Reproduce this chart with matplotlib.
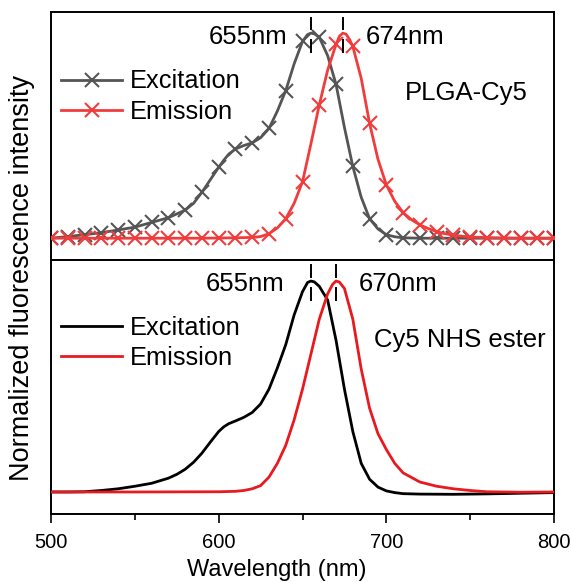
import numpy as np
import matplotlib
matplotlib.use("Agg")
import matplotlib.pyplot as plt

plt.rcParams['font.family'] = ['Liberation Sans', 'DejaVu Sans']

# PLGA-Cy5 spectra (normalized)
plga_ex_wl = [500, 510, 520, 530, 540, 550, 560, 570, 580, 585, 590, 595, 600, 603, 606, 610,
              615, 620, 625, 630, 635, 640, 645, 650, 653, 655, 657, 660, 665, 670, 675,
              680, 685, 690, 695, 700, 705, 710, 720, 730, 740, 750, 760, 770, 780, 790, 800]
plga_ex_val = [0.0, 0.008, 0.017, 0.027, 0.040, 0.054, 0.077, 0.100, 0.137, 0.170, 0.224, 0.285,
               0.346, 0.380, 0.410, 0.435, 0.452, 0.465, 0.490, 0.535, 0.620, 0.720, 0.850,
               0.960, 0.993, 1.000, 0.997, 0.980, 0.890, 0.750, 0.540, 0.350, 0.200, 0.095,
               0.045, 0.017, 0.007, 0.002, 0.0, 0.0, 0.0, 0.0, 0.0, 0.0, 0.0, 0.0, 0.0]

plga_em_wl = [500, 510, 520, 530, 540, 550, 560, 570, 580, 590, 600, 610, 620, 625, 630, 635,
              640, 645, 650, 655, 660, 665, 670, 672, 674, 676, 678, 680, 685, 690, 695, 700,
              705, 710, 715, 720, 725, 730, 735, 740, 745, 750, 760, 770, 780, 790, 800]
plga_em_val = [0.0, 0.0, 0.0, 0.0, 0.0, 0.0, 0.0, 0.0, 0.0, 0.0, 0.001, 0.002, 0.004, 0.008,
               0.022, 0.050, 0.095, 0.170, 0.275, 0.460, 0.650, 0.820, 0.945, 0.985, 1.000,
               0.995, 0.970, 0.935, 0.780, 0.560, 0.385, 0.260, 0.180, 0.125, 0.090, 0.065,
               0.047, 0.032, 0.022, 0.015, 0.010, 0.006, 0.003, 0.001, 0.0, 0.0, 0.0]

# Cy5 NHS ester spectra (normalized)
nhs_ex_wl = [500, 510, 520, 530, 540, 550, 560, 570, 575, 580, 585, 590, 595, 600, 603, 606,
             610, 615, 620, 625, 630, 635, 640, 645, 650, 653, 655, 657, 660, 665, 670, 675,
             680, 685, 690, 695, 700, 705, 710, 720, 740, 760, 780, 800]
nhs_ex_val = [0.005, 0.005, 0.006, 0.012, 0.020, 0.032, 0.046, 0.070, 0.088, 0.112, 0.145,
              0.188, 0.240, 0.290, 0.312, 0.327, 0.340, 0.357, 0.380, 0.420, 0.490, 0.590,
              0.700, 0.840, 0.950, 0.993, 1.000, 0.996, 0.975, 0.910, 0.720, 0.490, 0.290,
              0.140, 0.065, 0.028, 0.010, 0.002, -0.003, -0.005, -0.006, -0.004, -0.001, 0.002]

nhs_em_wl = [500, 550, 600, 610, 615, 620, 625, 630, 635, 640, 645, 650, 655, 660, 665, 668,
             670, 672, 675, 680, 685, 690, 695, 700, 705, 710, 720, 730, 740, 750, 760, 780, 800]
nhs_em_val = [0.005, 0.005, 0.006, 0.008, 0.012, 0.020, 0.035, 0.075, 0.140, 0.225, 0.345,
              0.490, 0.655, 0.820, 0.940, 0.985, 1.000, 0.995, 0.965, 0.820, 0.585, 0.400,
              0.280, 0.205, 0.140, 0.095, 0.052, 0.032, 0.020, 0.012, 0.006, 0.004, 0.005]

peak_labels_top = [(655, "655nm"), (674, "674nm")]
peak_labels_bot = [(655, "655nm"), (670, "670nm")]

GRAY = "#555555"
RED_TOP = "#f03c3c"
RED_BOT = "#e8191f"

fig = plt.figure(figsize=(5.71, 5.82), dpi=100)
ax1 = fig.add_axes([0.0893, 0.553, 0.881, 0.426])
ax2 = fig.add_axes([0.0893, 0.1168, 0.881, 0.4364])

def mark_idx(wl):
    return [i for i, w in enumerate(wl) if w % 10 == 0]

lw = 2.0
ax1.plot(plga_ex_wl, plga_ex_val, color=GRAY, lw=lw, marker='x', ms=10, mew=1.5,
         markevery=mark_idx(plga_ex_wl), label="Excitation", zorder=3)
ax1.plot(plga_em_wl, plga_em_val, color=RED_TOP, lw=lw, marker='x', ms=10, mew=1.5,
         markevery=mark_idx(plga_em_wl), label="Emission", zorder=3)

ax2.plot(nhs_ex_wl, nhs_ex_val, color="black", lw=lw, label="Excitation", zorder=3)
ax2.plot(nhs_em_wl, nhs_em_val, color=RED_BOT, lw=lw, label="Emission", zorder=3)

ax1.set_xlim(500, 800)
ax2.set_xlim(500, 800)
ax1.set_ylim(-0.107, 1.102)
ax2.set_ylim(-0.099, 1.099)

for ax in (ax1, ax2):
    for s in ax.spines.values():
        s.set_linewidth(1.4)
    ax.set_yticks([])

ax1.set_xticks([])
ax2.set_xticks([500, 600, 700, 800])
ax2.set_xticks([550, 650, 750], minor=True)
ax2.tick_params(axis='x', which='major', direction='out', length=6.5, width=1.2,
                labelsize=14.5, pad=7)
ax2.tick_params(axis='x', which='minor', direction='out', length=4.5, width=1.2)
ax2.set_xlabel("Wavelength (nm)", fontsize=17, va='baseline')
ax2.xaxis.set_label_coords((277 - 51) / 503, -(576 - 514) / 254)

fig.text(0.039, 0.522, "Normalized fluorescence intensity", rotation=90,
         ha='center', va='center', fontsize=19.5)

# Peak position markers
for ax, peaks in ((ax1, peak_labels_top), (ax2, peak_labels_bot)):
    for x, _ in peaks:
        ax.plot([x, x], [1.02, 1.075], color="black", lw=1.4, zorder=4)
        ax.plot([x, x], [0.965, 0.91], color="black", lw=1.4, zorder=4)

fs = 18.5
ax1.text(641, 0.98, "655nm", ha='right', va='center', fontsize=fs)
ax1.text(688, 0.98, "674nm", ha='left', va='center', fontsize=fs)
ax1.text(711, 0.707, "PLGA-Cy5", ha='left', va='center', fontsize=fs)

ax2.text(639.5, 0.986, "655nm", ha='right', va='center', fontsize=fs)
ax2.text(683.7, 0.986, "670nm", ha='left', va='center', fontsize=fs)
ax2.text(692.6, 0.722, "Cy5 NHS ester", ha='left', va='center', fontsize=fs)

leg_kw = dict(frameon=False, fontsize=18.3, handlelength=2.4, handletextpad=0.3,
              labelspacing=0.25, borderaxespad=0, borderpad=0)
ax1.legend(loc='upper left', bbox_to_anchor=(0.02, 0.769), **leg_kw)
ax2.legend(loc='upper left', bbox_to_anchor=(0.02, 0.78), **leg_kw)

fig.savefig("out.png", dpi=100)
